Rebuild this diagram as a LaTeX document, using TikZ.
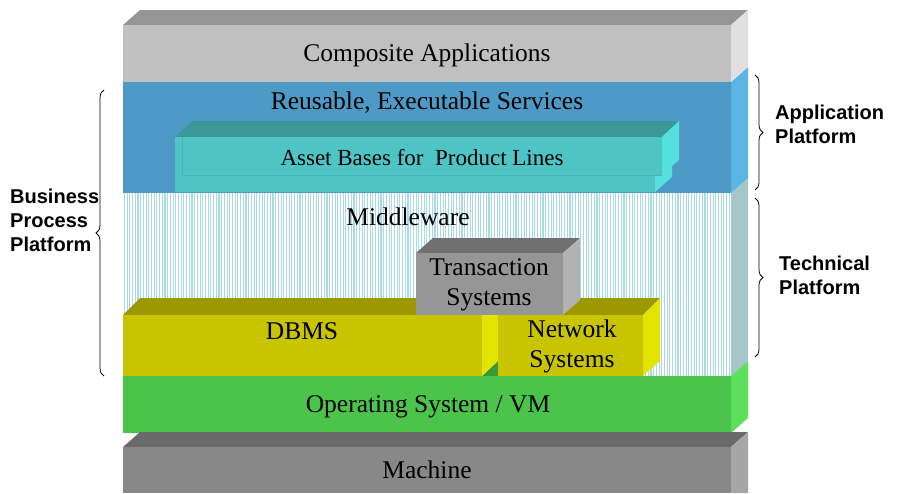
\documentclass[tikz,border=0pt]{standalone}
\usepackage{fontspec}
\setmainfont{Liberation Serif}
\setsansfont{Liberation Sans}
\usepackage{tikz}
\usetikzlibrary{decorations.pathreplacing}
\usepackage{xcolor}
\definecolor{CompFront}{RGB}{192,192,192}
\definecolor{CompTop}{RGB}{150,150,150}
\definecolor{CompSide}{RGB}{224,224,224}
\definecolor{SvcFront}{RGB}{78,154,198}
\definecolor{SvcSide}{RGB}{90,180,228}
\definecolor{AssetFront}{RGB}{78,196,196}
\definecolor{AssetTop}{RGB}{60,152,152}
\definecolor{AssetSide}{RGB}{85,224,224}
\definecolor{AssetLine}{RGB}{68,180,180}
\definecolor{MidLine}{RGB}{168,218,224}
\definecolor{MidSide}{RGB}{167,198,201}
\definecolor{TxFront}{RGB}{150,150,150}
\definecolor{TxTop}{RGB}{112,112,112}
\definecolor{TxSide}{RGB}{178,178,178}
\definecolor{DbFront}{RGB}{200,196,0}
\definecolor{DbTop}{RGB}{156,153,0}
\definecolor{DbSide}{RGB}{227,227,0}
\definecolor{OSFront}{RGB}{76,196,76}
\definecolor{OSTop}{RGB}{58,154,58}
\definecolor{OSSide}{RGB}{92,224,92}
\definecolor{HwFront}{RGB}{136,136,136}
\definecolor{HwTop}{RGB}{106,106,106}
\definecolor{HwSide}{RGB}{166,166,166}

\begin{document}
\begin{tikzpicture}[x=1pt,y=-1pt,
  lbl/.style={font=\fontsize{25.5}{30}\selectfont, align=center, inner sep=0pt},
  side/.style={font=\sffamily\bfseries\fontsize{20}{24}\selectfont, align=left, anchor=west, inner sep=0pt},
  brc/.style={decorate, decoration={brace, amplitude=8pt}, line width=0.8pt}]
\useasboundingbox (0,0) rectangle (897,493);

% middleware (hatched)
\fill[white] (123,193) rectangle (731,376);
\foreach \x in {124.5,127.2,...,730}
  \draw[MidLine, line width=1.1pt] (\x,193) -- (\x,376);
\fill[MidSide] (731,193) -- (748,178) -- (748,361) -- (731,376) -- cycle;

% operating system
\fill[OSTop] (482,376) -- (498,361) -- (498,376) -- cycle;
\fill[OSFront] (123,376) rectangle (731,433);
\fill[OSSide] (731,376) -- (748,361) -- (748,418) -- (731,433) -- cycle;

% machine
\fill[HwTop] (123,447) -- (140,432) -- (748,432) -- (731,447) -- cycle;
\fill[HwFront] (123,447) rectangle (731,493);
\fill[HwSide] (731,447) -- (748,432) -- (748,493) -- (731,493) -- cycle;

% dbms + network
\fill[DbTop] (123,315) -- (140,298) -- (660,298) -- (643,315) -- cycle;
\fill[DbFront] (123,315) rectangle (482,376);
\fill[DbSide] (482,315) -- (498,298) -- (498,361) -- (482,376) -- cycle;
\fill[DbFront] (498,315) rectangle (643,376);
\fill[DbSide] (643,315) -- (660,298) -- (660,361) -- (643,376) -- cycle;

% transaction systems
\fill[TxTop] (416,253) -- (433,238) -- (580,238) -- (563,253) -- cycle;
\fill[TxFront] (416,253) rectangle (563,315);
\fill[TxSide] (563,253) -- (580,238) -- (580,300) -- (563,315) -- cycle;

% reusable services
\fill[SvcFront] (123,82) rectangle (731,193);
\fill[SvcSide] (731,82) -- (748,67) -- (748,178) -- (731,193) -- cycle;

% asset bases (two boxes)
\fill[AssetTop] (175,137) -- (192,121) -- (672,121) -- (655,137) -- cycle;
\fill[AssetFront] (175,137) rectangle (655,192);
\fill[AssetSide] (655,137) -- (672,121) -- (672,177) -- (655,192) -- cycle;
\fill[AssetTop] (182,137) -- (199,121) -- (679,121) -- (662,137) -- cycle;
\fill[AssetFront] (182,137) rectangle (662,175);
\draw[AssetLine, line width=0.6pt] (182,137) -- (182,175) -- (662,175);
\fill[AssetSide] (662,137) -- (679,121) -- (679,160) -- (662,175) -- cycle;

% composite applications
\fill[CompTop] (123,25) -- (140,10) -- (748,10) -- (731,25) -- cycle;
\fill[CompFront] (123,25) rectangle (731,82);
\fill[CompSide] (731,25) -- (748,10) -- (748,67) -- (731,82) -- cycle;

% labels
\node[lbl] (comp) at (427,55) {Composite Applications};
\node[lbl] (svc) at (427,103) {Reusable, Executable Services};
\node[lbl, font=\fontsize{23}{27}\selectfont] (asset) at (422,158) {Asset Bases for\ \ Product Lines};
\node[lbl] (mid) at (408,217) {Middleware};
\node[lbl] (tx) at (489,285) {Transaction\\Systems};
\node[lbl] (db) at (302,331) {DBMS};
\node[lbl] (net) at (572,346) {Network\\Systems};
\node[lbl] (os) at (428,407) {Operating System / VM};
\node[lbl] (hw) at (427,470) {Machine};

% braces
\coordinate (bpTop) at (104,90);
\coordinate (bpBot) at (104,376);
\coordinate (apTop) at (755,75);
\coordinate (apBot) at (755,190);
\coordinate (tpTop) at (755,198);
\coordinate (tpBot) at (755,357);
\draw[brc] (bpBot) -- (bpTop);
\draw[brc] (apTop) -- (apBot);
\draw[brc] (tpTop) -- (tpBot);

\node[side] (bp) at (10,220) {Business\\Process\\Platform};
\node[side] (ap) at (775,124) {Application\\Platform};
\node[side] (tp) at (779,275) {Technical\\Platform};
\end{tikzpicture}
\end{document}
